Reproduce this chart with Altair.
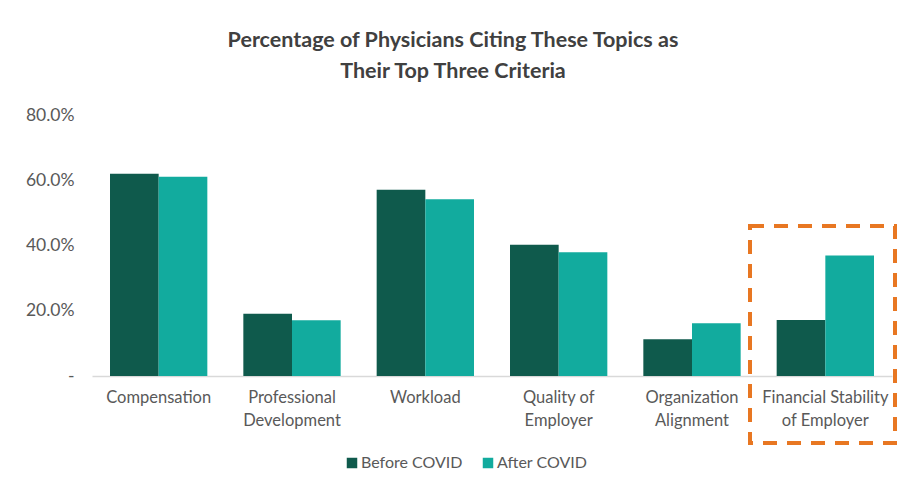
import altair as alt
import pandas as pd

categories = ["Compensation", "Professional|Development", "Workload",
              "Quality of|Employer", "Organization|Alignment",
              "Financial Stability|of Employer"]
before_covid = [0.620, 0.191, 0.571, 0.402, 0.113, 0.172]
after_covid = [0.611, 0.171, 0.542, 0.379, 0.162, 0.369]
series = ["Before COVID", "After COVID"]
colors = ["#0f5a4c", "#12ab9e"]

rows = []
for c, b, a in zip(categories, before_covid, after_covid):
    rows.append({"category": c, "series": series[0], "value": b})
    rows.append({"category": c, "series": series[1], "value": a})
df = pd.DataFrame(rows)

font = "Lato"
grey = "#595959"

bars = alt.Chart(df).mark_bar().encode(
    x=alt.X("category:N", sort=categories, title=None,
            scale=alt.Scale(paddingInner=0.27, paddingOuter=0.135),
            axis=alt.Axis(labelAngle=0, labelExpr="split(datum.label, '|')",
                          labelFont=font, labelFontSize=16.5, labelColor=grey,
                          labelLineHeight=23, labelPadding=13, ticks=False,
                          domainColor="#d9d9d9", domainWidth=1.5)),
    xOffset=alt.XOffset("series:N", sort=series),
    y=alt.Y("value:Q", title=None,
            scale=alt.Scale(domain=[0, 0.8]),
            axis=alt.Axis(values=[0, 0.2, 0.4, 0.6, 0.8], grid=False, domain=False,
                          ticks=False,
                          labelExpr="datum.value == 0 ? '-' : format(datum.value, '.1%')",
                          labelFont=font, labelFontSize=17.5, labelColor=grey,
                          labelPadding=18)),
    color=alt.Color("series:N", sort=series,
                    scale=alt.Scale(domain=series, range=colors),
                    legend=alt.Legend(title=None, orient="none", direction="horizontal",
                                      legendX=252, legendY=340,
                                      symbolType="square", symbolSize=110,
                                      symbolStrokeWidth=0, labelOffset=1,
                                      labelFont=font, labelFontSize=16,
                                      labelColor=grey, columnPadding=17)),
)

box = alt.Chart(alt.Data(values=[{"a": 1}])).mark_rect(
    fillOpacity=0, stroke="#E87722", strokeWidth=4, strokeDash=[14, 10]
).encode(
    x=alt.value(658), x2=alt.value(803),
    y=alt.value(111), y2=alt.value(328),
)

chart = alt.layer(bars, box).properties(
    width=800, height=261,
    padding={"left": 84, "top": 107, "right": 5, "bottom": 100},
    autosize=alt.AutoSizeParams(type="none"),
    title=alt.TitleParams(
        text=["Percentage of Physicians Citing These Topics as",
              "Their Top Three Criteria"],
        font=font, fontSize=21.5, fontWeight="bold", color="#404040",
        lineHeight=31, offset=24, dx=-39, anchor="middle"),
).configure_view(stroke=None)

chart.save("out.html", embed_options={"renderer": "svg", "actions": False})
